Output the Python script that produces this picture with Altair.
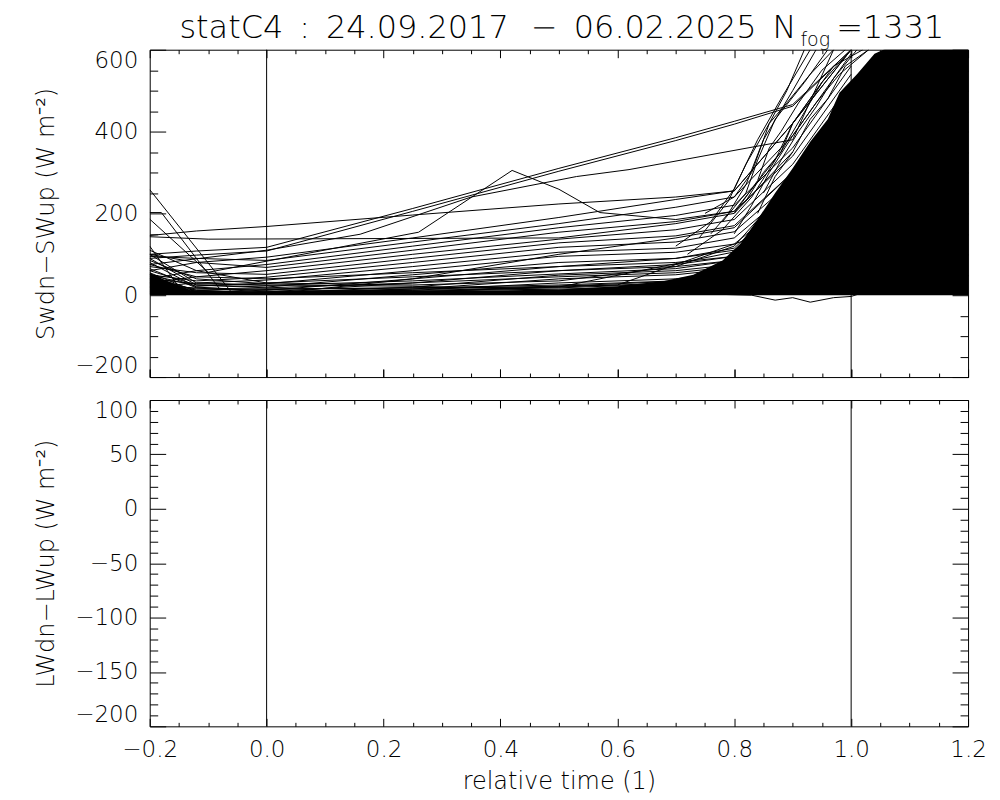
import altair as alt
import pandas as pd

FONT = "DejaVu Sans"
FW = 200

# ---------------- axes / ticks ----------------
x_domain = [-0.2, 1.2]
sw_domain = [-200, 600]
lw_domain = [-200, 100]
x_major = [-0.2, 0.0, 0.2, 0.4, 0.6, 0.8, 1.0, 1.2]
x_minor = [-0.15, -0.1, -0.05, 0.05, 0.1, 0.15, 0.25, 0.3, 0.35, 0.45, 0.5, 0.55,
           0.65, 0.7, 0.75, 0.85, 0.9, 0.95, 1.05, 1.1, 1.15]
sw_major = [-200, 0, 200, 400, 600]
sw_minor = [-150, -100, -50, 50, 100, 150, 250, 300, 350, 450, 500, 550]
lw_major = [-200, -150, -100, -50, 0, 50, 100]
lw_minor = [-190, -180, -170, -160, -140, -130, -120, -110, -90, -80, -70, -60,
            -40, -30, -20, -10, 10, 20, 30, 40, 60, 70, 80, 90]
ref_times = [0.0, 1.0]

EN = "\u2002"
title_main = ("statC4" + EN + ":" + EN + "24.09.2017" + EN + "\u2009" + "\u2212" + EN
              + "06.02.2025" + EN + "N")
title_sub = "fog"
title_end = "=1331"
sw_title = "Swdn\u2212SWup (W m\u207b\u00b2)"
lw_title = "LWdn\u2212LWup (W m\u207b\u00b2)"
x_title = "relative time (1)"

# ---------------- SW traces ----------------
band_x = [-0.2, -0.12, 0.0, 0.25, 0.5, 0.7, 0.8, 0.9, 1.0]
band_01 = [146, 157, 168, 196, 223, 240, 255, 420, 600]
band_02 = [100, 108, 117, 212, 310, 385, 425, 466, 600]
band_03 = [90, 98, 108, 205, 303, 378, 418, 462, 600]
band_04 = [60, 80, 93, 140, 190, 234, 255, 420, 600]
band_05 = [95, 90, 85, 130, 175, 215, 240, 390, 590]
band_06 = [40, 60, 75, 120, 165, 195, 220, 360, 560]
band_07 = [100, 80, 68, 110, 154, 180, 205, 340, 540]
band_08 = [30, 45, 60, 100, 137, 160, 185, 320, 520]
band_09 = [70, 55, 51, 90, 128, 145, 170, 300, 500]
band_10 = [50, 35, 44, 80, 117, 130, 155, 280, 480]
band_11 = [20, 30, 37, 70, 105, 115, 140, 260, 460]
band_12 = [85, 40, 28, 60, 95, 105, 125, 240, 440]
band_13 = [60, 25, 20, 50, 80, 90, 110, 220, 420]
band_14 = [35, 15, 12, 40, 70, 80, 95, 200, 400]
band_15 = [25, 10, 8, 30, 60, 70, 85, 180, 380]
band_16 = [45, 12, 5, 20, 49, 60, 75, 160, 360]
band_17 = [15, 5, 3, 15, 40, 50, 65, 140, 340]
band_18 = [80, 20, 10, 12, 30, 40, 55, 120, 320]
band_19 = [55, 8, 4, 8, 20, 30, 45, 110, 300]
band_20 = [100, 30, 25, 22, 12, 20, 35, 100, 280]
band_21 = [30, 12, 6, 10, 15, 22, 30, 90, 260]
band_22 = [65, 18, 14, 18, 25, 35, 48, 130, 330]
band_23 = [20, 6, 2, 5, 10, 15, 22, 70, 220]
band_24 = [90, 25, 18, 30, 45, 55, 70, 170, 380]
band_25 = [50, 22, 30, 45, 60, 75, 95, 200, 420]
band_26 = [10, 4, 6, 12, 18, 28, 40, 110, 290]
band_27 = [75, 45, 40, 55, 70, 90, 115, 250, 470]
band_28 = [40, 28, 24, 35, 52, 65, 85, 190, 400]
band_29 = [5, 3, 2, 40, 100, 140, 165, 300, 500]
band_30 = [110, 60, 30, 25, 35, 70, 120, 280, 480]

peak_x = [-0.2, -0.1, 0.26, 0.42, 0.5, 0.57, 0.7, 0.8, 0.88, 0.95]
peak_y = [186, 56, 154, 305, 259, 202, 185, 205, 350, 520]
mid_x = [-0.2, 0.0, 0.16, 0.35, 0.53, 0.62, 0.9, 0.97]
mid_y = [75, 110, 149, 240, 290, 307, 380, 600]
flat_x = [-0.2, -0.1, 0.5, 0.7, 0.8, 0.9]
flat_y = [143, 137, 140, 175, 200, 350]
fall1_x = [-0.2, -0.06, 0.3, 0.8, 0.9]
fall1_y = [258, 7, 10, 40, 150]
fall2_x = [-0.2, -0.18, -0.08, 0.5, 0.85]
fall2_y = [202, 202, 15, 20, 120]
fall3_x = [-0.2, -0.15, 0.0, 0.6, 0.85]
fall3_y = [120, 20, 8, 25, 150]
steep1_x = [0.75, 0.80, 0.83, 0.86, 0.89, 0.93, 0.97]
steep1_y = [200, 240, 300, 420, 470, 540, 600]
steep2_x = [0.78, 0.82, 0.84, 0.87, 0.92, 0.96]
steep2_y = [180, 250, 330, 430, 520, 600]
steep3_x = [0.80, 0.84, 0.86, 0.88, 0.91, 0.95, 0.99]
steep3_y = [200, 280, 360, 400, 470, 550, 600]
steep4_x = [0.76, 0.79, 0.82, 0.85, 0.90, 0.94]
steep4_y = [150, 200, 270, 380, 500, 600]
steep5_x = [0.82, 0.85, 0.88, 0.90, 0.93, 0.97, 1.02]
steep5_y = [230, 300, 350, 420, 480, 560, 600]
steep6_x = [0.70, 0.76, 0.80, 0.84, 0.88, 0.93]
steep6_y = [120, 180, 260, 380, 480, 600]
steep7_x = [0.72, 0.78, 0.83, 0.87, 0.90, 0.95, 1.00]
steep7_y = [100, 160, 240, 330, 420, 520, 600]
steep8_x = [0.80, 0.83, 0.86, 0.90, 0.94, 0.98, 1.03]
steep8_y = [150, 220, 300, 390, 470, 540, 600]
steep9_x = [0.85, 0.88, 0.91, 0.94, 0.97, 1.01]
steep9_y = [250, 330, 400, 460, 530, 600]
steep10_x = [0.74, 0.79, 0.82, 0.86, 0.89, 0.92]
steep10_y = [140, 230, 320, 420, 500, 600]
steep11_x = [0.84, 0.87, 0.90, 0.93, 0.96, 0.99, 1.03]
steep11_y = [200, 290, 350, 430, 480, 560, 600]
dip_x = [0.78, 0.83, 0.87, 0.90, 0.93, 0.97, 1.00, 1.05]
dip_y = [2, 0, -12, -6, -17, -6, -3, 20]

# dense (saturated) region of the 1331 overlapping traces
env_x = [-0.2, -0.17, -0.13, -0.05, 0.1, 0.3, 0.5, 0.6, 0.68, 0.73, 0.78, 0.81,
         0.84, 0.87, 0.9, 0.93, 0.96, 0.98, 1.01, 1.04, 1.07, 1.2]
env_y = [55, 35, 12, 8, 9, 10, 14, 22, 35, 50, 85, 125, 185, 250, 310, 375, 430,
         495, 540, 590, 610, 610]

# ---------------- build tables ----------------
rows = []
bands = [band_01, band_02, band_03, band_04, band_05, band_06, band_07, band_08,
         band_09, band_10, band_11, band_12, band_13, band_14, band_15, band_16,
         band_17, band_18, band_19, band_20, band_21, band_22, band_23, band_24,
         band_25, band_26, band_27, band_28, band_29, band_30]
for i, ys in enumerate(bands):
    for k, (xv, yv) in enumerate(zip(band_x, ys)):
        rows.append({"id": f"b{i}", "k": k, "x": xv, "y": yv})
others = [(peak_x, peak_y), (mid_x, mid_y), (flat_x, flat_y), (fall1_x, fall1_y),
          (fall2_x, fall2_y), (fall3_x, fall3_y), (steep1_x, steep1_y),
          (steep2_x, steep2_y), (steep3_x, steep3_y), (steep4_x, steep4_y),
          (steep5_x, steep5_y), (steep6_x, steep6_y), (steep7_x, steep7_y),
          (steep8_x, steep8_y), (steep9_x, steep9_y), (steep10_x, steep10_y),
          (steep11_x, steep11_y), (dip_x, dip_y)]
for i, (xs_, ys_) in enumerate(others):
    for k, (xv, yv) in enumerate(zip(xs_, ys_)):
        rows.append({"id": f"o{i}", "k": k, "x": xv, "y": yv})
lines_df = pd.DataFrame(rows)
env_df = pd.DataFrame({"x": env_x, "y": env_y, "y0": [0] * len(env_x)})
ref_df = pd.DataFrame({"x": ref_times})
dummy_df = pd.DataFrame({"x": [0.0], "y": [0.0]})

W = 820
H_TOP = 328
H_BOT = 327


def xs():
    return alt.Scale(domain=x_domain, nice=False, zero=False)


def ysc(dom):
    return alt.Scale(domain=dom, nice=False, zero=False)


def tick_axis(orient, values, size, offset):
    return alt.Axis(orient=orient, values=values, tickSize=size, offset=offset,
                    labels=False, domain=False, grid=False, title="", ticks=True,
                    tickColor="black", tickWidth=1)


def panel(ydom, ymajor, yminor, ytitle, height, show_x):
    if show_x:
        x_first = alt.Axis(orient="bottom", values=x_major, format=".1f",
                           ticks=False, domain=False, grid=False, labelPadding=12,
                           labelFlush=False, title=x_title, titlePadding=8)
    else:
        x_first = tick_axis("top", x_major, 8, -height)
    x_axes = [x_first,
              tick_axis("top", x_minor, 4, -height),
              tick_axis("bottom", x_major, 8, -height),
              tick_axis("bottom", x_minor, 4, -height),
              tick_axis("top", x_major, 8, -height)]
    y_axes = [alt.Axis(orient="left", values=ymajor, format="d", ticks=False,
                       domain=False, grid=False, labelPadding=12, labelFlush=True,
                       title=ytitle, titlePadding=16),
              tick_axis("right", ymajor, 16, -W),
              tick_axis("right", yminor, 8, -W),
              tick_axis("left", ymajor, 16, -W),
              tick_axis("left", yminor, 8, -W)]
    layers = []
    for xa, ya in zip(x_axes, y_axes):
        layers.append(
            alt.Chart(dummy_df).mark_point(opacity=0).encode(
                x=alt.X("x:Q", scale=xs(), axis=xa),
                y=alt.Y("y:Q", scale=ysc(ydom), axis=ya),
            )
        )
    rules = alt.Chart(ref_df).mark_rule(color="black", strokeWidth=1).encode(
        x=alt.X("x:Q", scale=xs(), axis=None)
    )
    layers.append(rules)
    return layers


top_layers = panel(sw_domain, sw_major, sw_minor, sw_title, H_TOP, False)
area = alt.Chart(env_df).mark_area(color="black", clip=True).encode(
    x=alt.X("x:Q", scale=xs(), axis=None),
    y=alt.Y("y:Q", scale=ysc(sw_domain), axis=None),
    y2=alt.Y2("y0:Q"),
)
lines = alt.Chart(lines_df).mark_line(color="black", strokeWidth=1, clip=True).encode(
    x=alt.X("x:Q", scale=xs(), axis=None),
    y=alt.Y("y:Q", scale=ysc(sw_domain), axis=None),
    detail="id:N",
    order="k:Q",
)
title_df = pd.DataFrame({"t": [title_main]})
sub_df = pd.DataFrame({"t": [title_sub]})
end_df = pd.DataFrame({"t": [title_end]})
t1 = alt.Chart(title_df).mark_text(align="right", baseline="alphabetic", fontSize=32,
                                   font=FONT, fontWeight=FW, color="black").encode(
    x=alt.value(648), y=alt.value(-12), text="t:N")
t2 = alt.Chart(sub_df).mark_text(align="left", baseline="alphabetic", fontSize=19,
                                 font=FONT, fontWeight=FW, color="black").encode(
    x=alt.value(652), y=alt.value(-4), text="t:N")
t3 = alt.Chart(end_df).mark_text(align="left", baseline="alphabetic", fontSize=32,
                                 font=FONT, fontWeight=FW, color="black").encode(
    x=alt.value(688), y=alt.value(-12), text="t:N")

top = alt.layer(area, lines, *top_layers, t1, t2, t3).resolve_axis(
    x="independent", y="independent").properties(width=W, height=H_TOP)

bot_layers = panel(lw_domain, lw_major, lw_minor, lw_title, H_BOT, True)
bottom = alt.layer(*bot_layers).resolve_axis(
    x="independent", y="independent").properties(width=W, height=H_BOT)

chart = alt.vconcat(top, bottom, spacing=21).properties(
    padding={"left": 26, "top": 2, "right": 5, "bottom": 0},
    background="white",
).configure_view(stroke="black", strokeWidth=1).configure_axis(
    labelFont=FONT, labelFontSize=23, labelFontWeight=FW, labelColor="black",
    titleFont=FONT, titleFontSize=24, titleFontWeight=FW, titleColor="black",
)

chart.save("out.html", embed_options={"renderer": "svg", "actions": False})
